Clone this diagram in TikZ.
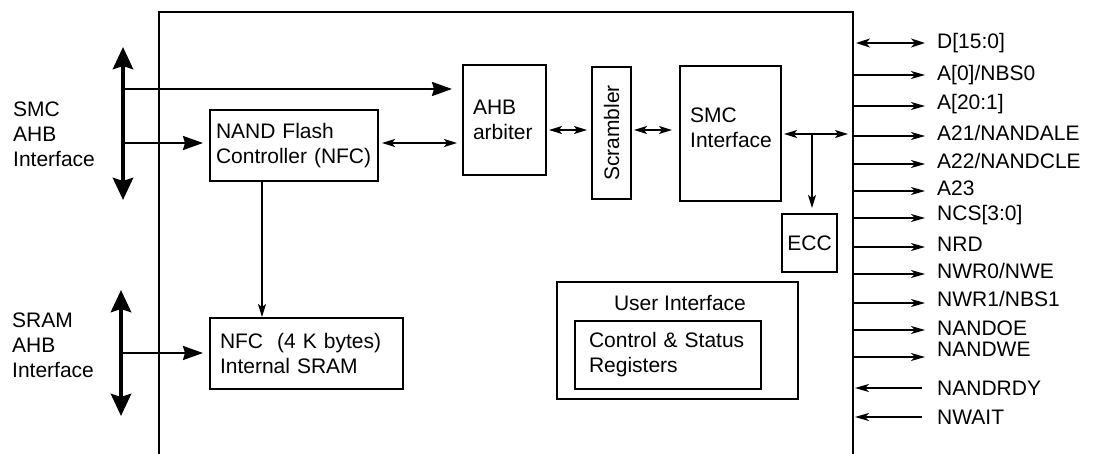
\documentclass[tikz,border=0pt]{standalone}
\usepackage{fontspec}
\setmainfont{Liberation Sans}
\usetikzlibrary{arrows.meta}
\begin{document}
\begin{tikzpicture}[x=1pt,y=-1pt,
  every node/.style={font=\fontsize{21}{25}\selectfont, inner sep=0pt},
  blk/.style={draw, line width=2pt, inner xsep=10pt, align=left},
  plainbox/.style={draw, line width=2pt},
  conn/.style={line width=1.5pt, -{Stealth[length=13pt,width=8pt,inset=3pt]}},
  dconn/.style={line width=1.6pt, {Stealth[length=13pt,width=8pt,inset=3pt]}-{Stealth[length=13pt,width=8pt,inset=3pt]}},
  sig/.style={line width=1.2pt, -{Stealth[length=14pt,width=8pt,inset=4pt]}},
  dsig/.style={line width=1.8pt, {Stealth[length=14pt,width=9pt,inset=4pt]}-{Stealth[length=14pt,width=9pt,inset=4pt]}},
  bus/.style={line width=4.5pt, {Stealth[length=22pt,width=20pt,inset=3pt]}-{Stealth[length=22pt,width=20pt,inset=3pt]}},
  feed/.style={line width=2.2pt, -{Stealth[length=20pt,width=14pt,inset=2pt]}},
  lbl/.style={anchor=west, align=left},
]
\useasboundingbox (0,0) rectangle (1097,454);

% main block outline
\draw[line width=2.5pt] (159,454) -- (159,12) -- (853,12) -- (853,454);

% blocks
\node[blk, inner xsep=6pt, text width=156pt, minimum height=71pt] (nfc) at (294,145.5) {NAND Flash\\Controller (NFC)};
\node[blk, text width=63pt, minimum height=110pt] (arb) at (504.5,120) {AHB\\arbiter};
\node[plainbox, minimum width=39pt, minimum height=132pt] (scr) at (611.5,133) {\rotatebox{90}{Scrambler}};
\node[plainbox, minimum width=101pt, minimum height=135pt] (smc) at (730.5,133.5) {};
\node[lbl] (smctext) at (690,128) {SMC\\Interface};
\node[plainbox, minimum width=55pt, minimum height=58pt] (ecc) at (809.5,243) {ECC};
\node[blk, text width=173pt, minimum height=71pt] (sram) at (306.5,353.5) {NFC\ \ (4 K bytes)\\Internal SRAM};
\node[plainbox, minimum width=241pt, minimum height=117pt] (ui) at (677.5,340.5) {};
\node (uitext) at (680,303) {User Interface};
\node[blk, inner xsep=14pt, text width=158pt, minimum height=68pt] (csr) at (668,355) {Control \& Status\\Registers};

% left labels
\node[lbl] (smclab) at (13,134) {SMC\\AHB\\Interface};
\node[lbl] (sramlab) at (12,345) {SRAM\\AHB\\Interface};

% SMC AHB bus
\coordinate (smcT) at (123,47);
\coordinate (smcB) at (123,200);
\coordinate (f1) at (123,89);
\coordinate (f2) at (123,143);
\draw[bus] (smcB) -- (smcT);
\draw[feed, shorten >=10pt] (f1) -- (f1 -| arb.west);
\draw[feed, shorten >=6pt] (f2) -- (f2 -| nfc.west);

% SRAM AHB bus
\coordinate (sramT) at (121,290);
\coordinate (sramB) at (121,416);
\coordinate (f3) at (121,353);
\draw[bus] (sramB) -- (sramT);
\draw[feed, shorten >=6pt] (f3) -- (f3 -| sram.west);

% internal connectors
\draw[dconn, shorten <=3pt, shorten >=5pt] (f2 -| nfc.east) -- (f2 -| arb.west);
\coordinate (y130) at (0,130);
\draw[dconn, shorten <=2pt, shorten >=4pt] (arb.east |- y130) -- (scr.west |- y130);
\draw[dconn, shorten <=2pt, shorten >=7pt] (scr.east |- y130) -- (smc.west |- y130);
\coordinate (busR) at (848,134);
\coordinate (br) at (812,134);
\draw[dconn, shorten <=2pt] (smc.east |- busR) -- (busR);
\draw[conn, shorten >=5pt] (br) -- (br |- ecc.north);
\coordinate (nfcdown) at (262,0);
\draw[conn] (nfc.south -| nfcdown) -- (sram.north -| nfcdown);

% right-hand signals
\foreach \n/\ya/\yl/\t in {
  s1/43/43/{D[15:0]},
  s2/75/75/{A[0]/NBS0},
  s3/106/104/{A[20:1]},
  s4/136/133/{A21/NANDALE},
  s5/164/161/{A22/NANDCLE},
  s6/191/188/{A23},
  s7/218/215/{NCS[3:0]},
  s8/247/244/{NRD},
  s9/274/271/{NWR0/NWE},
  s10/303/299/{NWR1/NBS1},
  s11/330/328/{NANDOE},
  s12/357/349/{NANDWE},
  s13/388/388/{NANDRDY},
  s14/417/417/{NWAIT}}{
  \coordinate (\n) at (853,\ya);
  \node[lbl] (\n lab) at (937,\yl) {\t};
}
\draw[dsig, shorten <=3pt, shorten >=12pt] (s1) -- (s1 -| s1lab.west);
\foreach \n in {s2,s3,s4,s5,s6,s7,s8,s9,s10,s11,s12}{
  \draw[sig, shorten >=12pt] (\n) -- (\n -| \n lab.west);
}
\foreach \n in {s13,s14}{
  \draw[sig, shorten <=15pt, shorten >=2pt] (\n -| \n lab.west) -- (\n);
}
\end{tikzpicture}
\end{document}
